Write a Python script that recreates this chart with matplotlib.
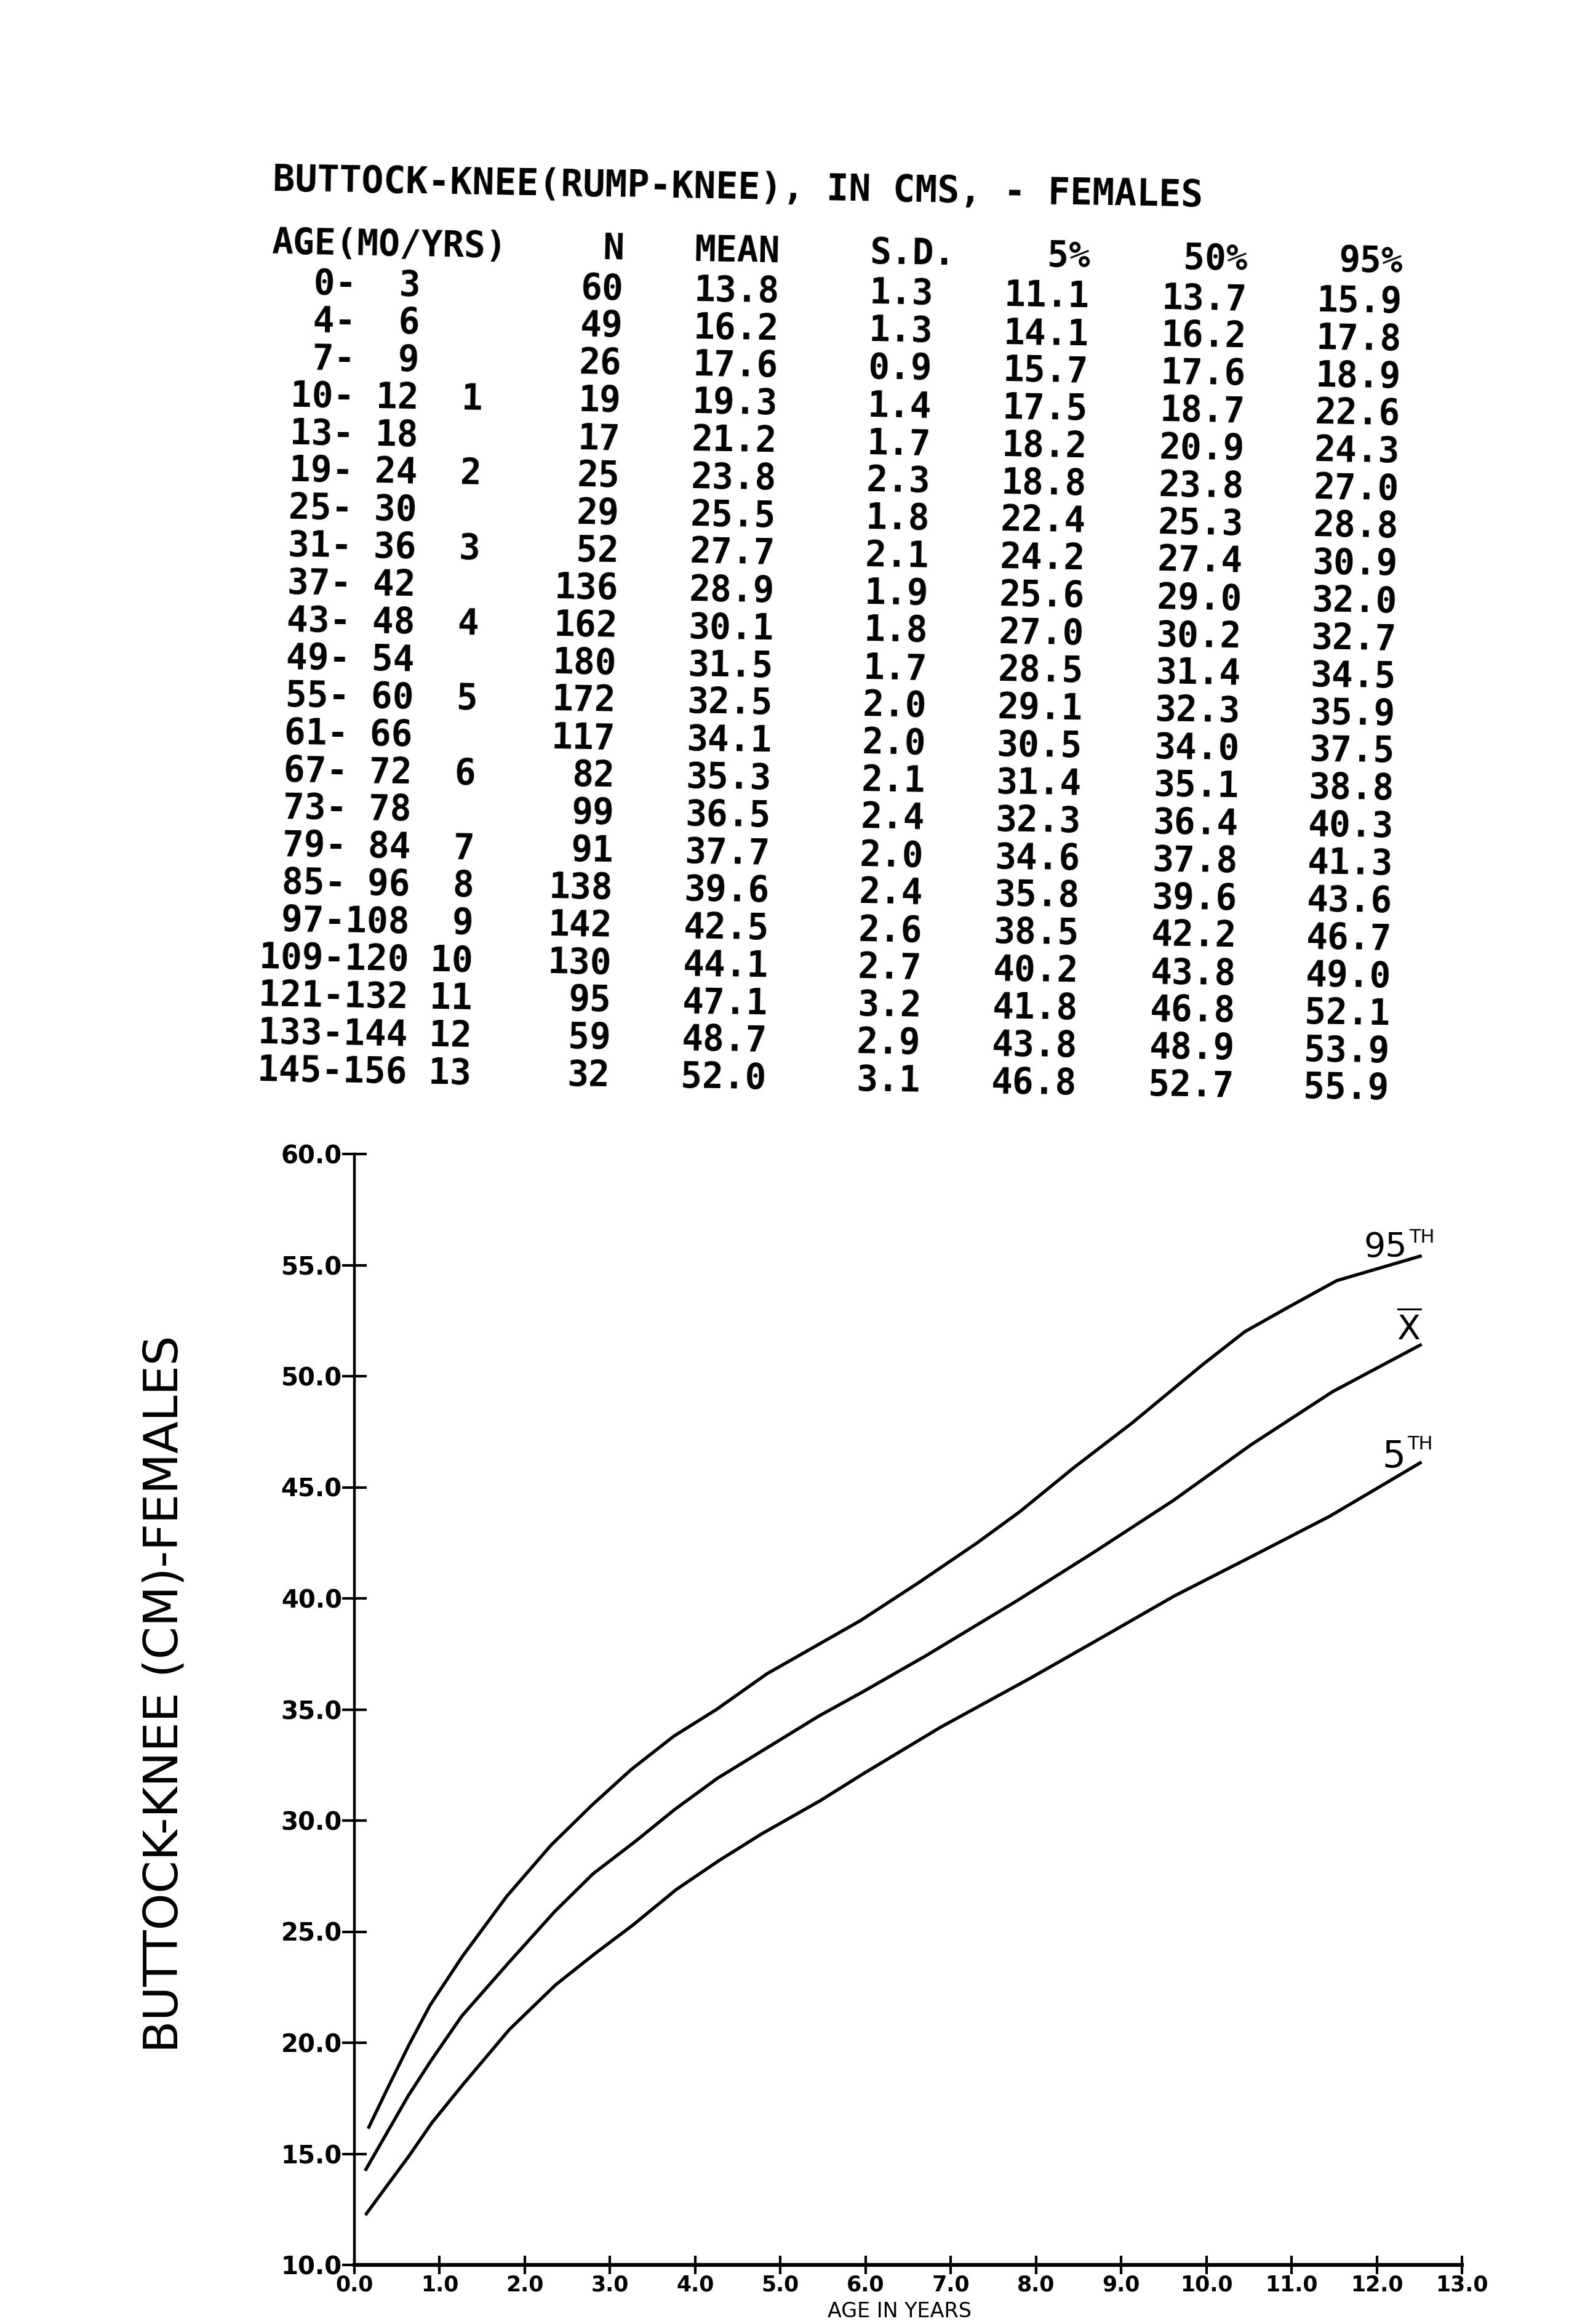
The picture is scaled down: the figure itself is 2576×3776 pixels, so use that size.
import numpy as np
import matplotlib
matplotlib.use('Agg')
import matplotlib.pyplot as plt
from matplotlib import font_manager
from matplotlib.font_manager import FontProperties

# table: buttock-knee length of females, cm
age_from = [0, 4, 7, 10, 13, 19, 25, 31, 37, 43, 49, 55, 61, 67, 73, 79, 85, 97, 109, 121, 133, 145]
age_to = [3, 6, 9, 12, 18, 24, 30, 36, 42, 48, 54, 60, 66, 72, 78, 84, 96, 108, 120, 132, 144, 156]
age_years = ['', '', '', '1', '', '2', '', '3', '', '4', '', '5', '', '6', '', '7', '8', '9', '10', '11', '12', '13']
n_subjects = [60, 49, 26, 19, 17, 25, 29, 52, 136, 162, 180, 172, 117, 82, 99, 91, 138, 142, 130, 95, 59, 32]
mean_cm = [13.8, 16.2, 17.6, 19.3, 21.2, 23.8, 25.5, 27.7, 28.9, 30.1, 31.5, 32.5, 34.1, 35.3, 36.5, 37.7, 39.6, 42.5, 44.1, 47.1, 48.7, 52.0]
sd_cm = [1.3, 1.3, 0.9, 1.4, 1.7, 2.3, 1.8, 2.1, 1.9, 1.8, 1.7, 2.0, 2.0, 2.1, 2.4, 2.0, 2.4, 2.6, 2.7, 3.2, 2.9, 3.1]
p5_cm = [11.1, 14.1, 15.7, 17.5, 18.2, 18.8, 22.4, 24.2, 25.6, 27.0, 28.5, 29.1, 30.5, 31.4, 32.3, 34.6, 35.8, 38.5, 40.2, 41.8, 43.8, 46.8]
p50_cm = [13.7, 16.2, 17.6, 18.7, 20.9, 23.8, 25.3, 27.4, 29.0, 30.2, 31.4, 32.3, 34.0, 35.1, 36.4, 37.8, 39.6, 42.2, 43.8, 46.8, 48.9, 52.7]
p95_cm = [15.9, 17.8, 18.9, 22.6, 24.3, 27.0, 28.8, 30.9, 32.0, 32.7, 34.5, 35.9, 37.5, 38.8, 40.3, 41.3, 43.6, 46.7, 49.0, 52.1, 53.9, 55.9]

# smoothed curves (age in years, cm)
c95_age = [0.17, 0.37, 0.64, 0.89, 1.27, 1.79, 2.31, 2.79, 3.25, 3.75, 4.25, 4.84, 5.94, 6.62, 7.31, 7.81, 8.45, 9.13, 9.95, 10.45, 10.96, 11.53, 12.51]
c95_cm = [16.2, 17.8, 19.9, 21.7, 23.9, 26.6, 28.9, 30.7, 32.3, 33.8, 35.0, 36.6, 39.0, 40.7, 42.5, 43.9, 45.9, 47.9, 50.5, 52.0, 53.1, 54.3, 55.4]
cmean_age = [0.135, 0.36, 0.63, 0.90, 1.26, 1.81, 2.35, 2.80, 3.31, 3.76, 4.26, 4.77, 5.45, 5.97, 6.70, 7.78, 8.69, 9.61, 10.52, 11.48, 12.51]
cmean_cm = [14.3, 15.8, 17.6, 19.2, 21.2, 23.6, 25.9, 27.6, 29.1, 30.5, 31.9, 33.1, 34.7, 35.8, 37.4, 39.9, 42.1, 44.4, 46.9, 49.3, 51.4]
c5_age = [0.14, 0.37, 0.64, 0.91, 1.27, 1.82, 2.36, 2.82, 3.27, 3.78, 4.28, 4.78, 5.47, 5.97, 6.88, 7.93, 8.71, 9.62, 10.54, 11.45, 12.51]
c5_cm = [12.3, 13.5, 14.9, 16.4, 18.1, 20.6, 22.6, 24.0, 25.3, 26.9, 28.2, 29.4, 30.9, 32.1, 34.2, 36.4, 38.1, 40.1, 41.9, 43.7, 46.1]

W, H = 2576, 3776
fig = plt.figure(figsize=(W / 100, H / 100), dpi=100)
renderer = fig.canvas.get_renderer()


def fx(x):
    return x / W


def fy(y):
    return 1 - y / H


# the scanned page is turned about one degree, the printout follows it
theta = np.deg2rad(0.97)
X0, Y0 = 441, 410
mono = FontProperties(family='DejaVu Sans Mono', weight='bold', size=41.5)


def put(u, v, s, ha='left', size=None):
    x = X0 + u * np.cos(theta) - v * np.sin(theta)
    y = Y0 + u * np.sin(theta) + v * np.cos(theta)
    fp = mono.copy()
    if size:
        fp.set_size(size)
    fig.text(fx(x), fy(y), s, ha=ha, va='baseline', fontproperties=fp,
             rotation=-np.rad2deg(theta), rotation_mode='anchor')


put(0, -100, 'BUTTOCK-KNEE(RUMP-KNEE), IN CMS, - FEMALES', size=43)
hv = 2
put(0, hv, 'AGE(MO/YRS)')
put(573, hv, 'N', ha='right')
put(827, hv, 'MEAN', ha='right')
put(973, hv, 'S.D.')
put(1331, hv, '5%', ha='right')
put(1587, hv, '50%', ha='right')
put(1839, hv, '95%', ha='right')

for i in range(len(age_from)):
    v = 46 + 60.9 * i + 21
    put(0, v, f'{age_from[i]:3d}-{age_to[i]:3d} {age_years[i]:>2s}')
    put(573, v, f'{n_subjects[i]}', ha='right')
    put(827, v, f'{mean_cm[i]:.1f}', ha='right')
    put(973, v, f'{sd_cm[i]:.1f}')
    put(1331, v, f'{p5_cm[i]:.1f}', ha='right')
    put(1587, v, f'{p50_cm[i]:.1f}', ha='right')
    put(1839, v, f'{p95_cm[i]:.1f}', ha='right')

# growth chart
ax = fig.add_axes([fx(576), fy(3680), 1800 / W, 1805 / H])
ax.plot(c95_age, c95_cm, color='black', lw=3.8)
ax.plot(cmean_age, cmean_cm, color='black', lw=3.8)
ax.plot(c5_age, c5_cm, color='black', lw=3.8)
ax.set_xlim(0, 13)
ax.set_ylim(10, 60)
xt = np.arange(0, 14)
yt = np.arange(10, 61, 5)
ax.set_xticks(xt, labels=[f'{t:.1f}' for t in xt], fontsize=25, fontweight='bold')
ax.set_yticks(yt, labels=[f'{t:.1f}' for t in yt], fontsize=29, fontweight='bold')
ax.spines['top'].set_visible(False)
ax.spines['right'].set_visible(False)
ax.spines['left'].set_linewidth(3.2)
ax.spines['bottom'].set_linewidth(4.5)
ax.tick_params(axis='y', direction='inout', length=29, width=3, pad=0)
ax.tick_params(axis='x', direction='inout', length=21, width=3, pad=1)

ax.text(12.36, 55.37, '95', ha='right', va='baseline', fontsize=40)
ax.text(12.38, 56.0, 'TH', ha='left', va='baseline', fontsize=22)
ax.text(12.38, 51.63, r'$\overline{\mathrm{X}}$', ha='center', va='baseline', fontsize=40)
ax.text(12.34, 45.9, '5', ha='right', va='baseline', fontsize=43)
ax.text(12.36, 46.7, 'TH', ha='left', va='baseline', fontsize=22)


def label_family():
    for fam in ['Liberation Sans Narrow', 'DejaVu Sans Condensed']:
        try:
            font_manager.findfont(FontProperties(family=fam), fallback_to_default=False)
            return fam
        except ValueError:
            pass
    return 'DejaVu Sans'


fam = label_family()
ylab = fig.text(fx(268), fy(2752), 'BUTTOCK-KNEE (CM)-FEMALES', rotation=90,
                ha='center', va='center', family=fam, fontsize=71)
bb = ylab.get_window_extent(renderer)
if bb.height > 1165:
    ylab.set_fontsize(71 * 1165 / bb.height)

# in the scan the page edge cuts this label; here it is kept whole in the strip below the ticks
fig.text(fx(1462), fy(3765), 'AGE IN YEARS', ha='center', va='baseline',
         family=fam, fontsize=24)

fig.savefig('out.png', dpi=100)
